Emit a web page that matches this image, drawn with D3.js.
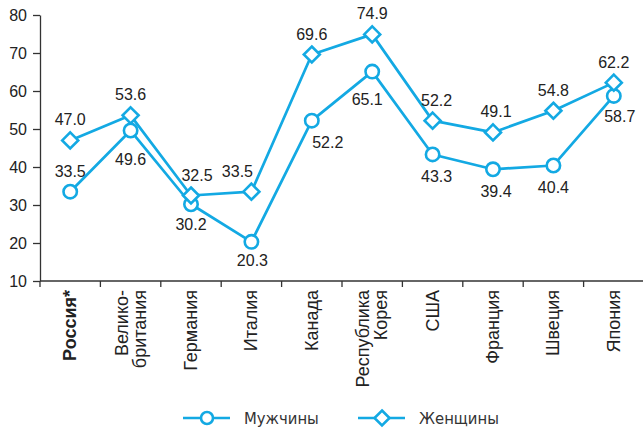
<!DOCTYPE html>
<html>
<head>
<meta charset="utf-8">
<script src="https://cdn.jsdelivr.net/npm/d3@7"></script>
<style>
body { margin:0; background:#fff; }
svg { font-family: "Liberation Sans", Arial, sans-serif; }
</style>
</head>
<body>
<svg id="drawing_region"></svg>
<script>
const categories = [['Россия*'], ['Велико-', 'британия'], ['Германия'], ['Италия'], ['Канада'],
    ['Республика', 'Корея'], ['США'], ['Франция'], ['Швеция'], ['Япония']];
const men = [33.5, 49.6, 30.2, 20.3, 52.2, 65.1, 43.3, 39.4, 40.4, 58.7];
const women = [47.0, 53.6, 32.5, 33.5, 69.6, 74.9, 52.2, 49.1, 54.8, 62.2];
const yticks = [10, 20, 30, 40, 50, 60, 70, 80];
const seriesNames = ['Мужчины', 'Женщины'];

const color = '#13a9e3';
const width = 643, height = 429;
const margin = {top:15, left:40, bottom:148, right:-1};

const svg = d3.select('#drawing_region')
    .attr('width', width)
    .attr('height', height);

const inner_w = width - margin.left - margin.right;
const inner_h = height - margin.top - margin.bottom;

const chart = svg.append('g')
    .attr('transform', `translate(${margin.left}, ${margin.top})`);

const keys = categories.map((c, i) => i);
const xscale = d3.scaleBand().domain(keys).range([0, inner_w]);
const yscale = d3.scaleLinear().domain([10, 80]).range([inner_h, 0]);
const xc = i => xscale(i) + xscale.bandwidth() / 2;

// y axis
const yaxis_group = chart.append('g')
    .call(d3.axisLeft(yscale).tickValues(yticks).tickSize(7).tickSizeOuter(0).tickPadding(6));
yaxis_group.select('.domain').attr('stroke', '#333').attr('stroke-width', 1.3);
yaxis_group.selectAll('.tick line').attr('stroke', '#333').attr('stroke-width', 1.3);
yaxis_group.selectAll('.tick text')
    .style('font-size', '16px').attr('fill', '#222');

// x axis
const xaxis_group = chart.append('g')
    .attr('transform', `translate(0, ${inner_h})`);
xaxis_group.append('line')
    .attr('x1', 0).attr('x2', inner_w)
    .attr('stroke', '#333').attr('stroke-width', 1.3);
xaxis_group.selectAll('.xtick').data(keys)
    .join('line')
    .attr('class', 'xtick')
    .attr('x1', d => xscale(d)).attr('x2', d => xscale(d))
    .attr('y1', 0).attr('y2', 6)
    .attr('stroke', '#333').attr('stroke-width', 1.3);

const label_g = xaxis_group.selectAll('.xlabel').data(keys)
    .join('text')
    .attr('class', 'xlabel')
    .attr('transform', d => `translate(${xc(d)}, 9) rotate(-90)`)
    .attr('text-anchor', 'end')
    .style('font-size', '18px')
    .style('font-weight', d => d === 0 ? 'bold' : 'normal')
    .attr('fill', '#222');
label_g.each(function(d) {
    const lines = categories[d];
    const sel = d3.select(this);
    lines.forEach((t, j) => {
        sel.append('tspan')
            .attr('x', 0)
            .attr('y', (j - (lines.length - 1) / 2) * 18 + 6)
            .text(t);
    });
});

// lines and markers
const line = d3.line()
    .x((d, i) => xc(i))
    .y(d => yscale(d));

[men, women].forEach(s => {
    chart.append('path')
        .datum(s)
        .attr('d', line)
        .attr('fill', 'none')
        .attr('stroke', color)
        .attr('stroke-width', 2.7)
        .attr('stroke-linejoin', 'round');
});

const diamond = r => `M0,${-r}L${r},0L0,${r}L${-r},0Z`;

chart.selectAll('.m').data(men)
    .join('circle')
    .attr('cx', (d, i) => xc(i))
    .attr('cy', d => yscale(d))
    .attr('r', 6.7)
    .attr('fill', '#fff')
    .attr('stroke', color)
    .attr('stroke-width', 2.6);

chart.selectAll('.w').data(women)
    .join('path')
    .attr('transform', (d, i) => `translate(${xc(i)}, ${yscale(d)})`)
    .attr('d', diamond(8))
    .attr('fill', '#fff')
    .attr('stroke', color)
    .attr('stroke-width', 2.6);

// value labels: offsets from the marker
const menDx = [0, 0, 0, 1, 16, -5, 4, 3, 0, 6];
const menDy = [-15, 34, 26, 24, 27, 33, 28, 28, 28, 26];
const womenDx = [0, 0, 6, -14, 0, 0, 4, 3, 0, 0];

chart.selectAll('.mlab').data(men)
    .join('text')
    .attr('x', (d, i) => xc(i) + menDx[i])
    .attr('y', (d, i) => yscale(d) + menDy[i])
    .attr('text-anchor', 'middle')
    .style('font-size', '16px')
    .attr('fill', '#222')
    .text(d => d.toFixed(1));

chart.selectAll('.wlab').data(women)
    .join('text')
    .attr('x', (d, i) => xc(i) + womenDx[i])
    .attr('y', d => yscale(d) - 15)
    .attr('text-anchor', 'middle')
    .style('font-size', '16px')
    .attr('fill', '#222')
    .text(d => d.toFixed(1));

// legend
const legend = svg.append('g')
    .attr('transform', 'translate(183, 418)');
seriesNames.forEach((name, i) => {
    const g = legend.append('g').attr('transform', `translate(${i * 175}, 0)`);
    g.append('line')
        .attr('x1', 0).attr('x2', 47)
        .attr('stroke', color).attr('stroke-width', 2.7);
    if (i === 0) {
        g.append('circle')
            .attr('cx', 24).attr('r', 6)
            .attr('fill', '#fff').attr('stroke', color).attr('stroke-width', 2.6);
    } else {
        g.append('path')
            .attr('transform', 'translate(24, 0)')
            .attr('d', diamond(7.5))
            .attr('fill', '#fff').attr('stroke', color).attr('stroke-width', 2.6);
    }
    g.append('text')
        .attr('x', 61).attr('y', 6)
        .style('font-family', '"DejaVu Sans Condensed", "DejaVu Sans", sans-serif')
        .style('font-size', '16.5px')
        .attr('fill', '#333')
        .text(name);
});
</script>
</body>
</html>
